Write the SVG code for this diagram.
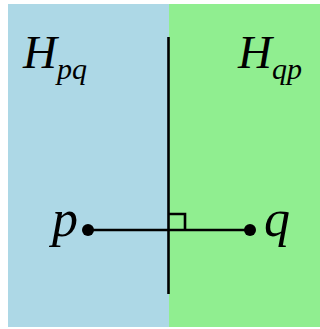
<svg xmlns="http://www.w3.org/2000/svg" width="320" height="329" viewBox="0 0 320 329">
<style>
.lbl{font-family:"Liberation Serif","Times New Roman",serif;font-style:italic;fill:#000}
.big{font-size:47px}
.sub{font-size:30px}
.pt{font-size:52px}
.ln{stroke:#000;stroke-width:2.6;fill:none}
</style>
<rect x="0" y="0" width="320" height="329" fill="#fff"/>
<g id="Hpq">
<rect x="8" y="4" width="161" height="323" fill="#ADD8E6"/>
<text class="lbl big" x="23" y="68">H<tspan class="sub" dy="11">pq</tspan></text>
</g>
<g id="Hqp">
<rect x="169" y="4" width="151" height="323" fill="#90EE90"/>
<text class="lbl big" x="238" y="68">H<tspan class="sub" dy="11">qp</tspan></text>
</g>
<g id="connectors">
<line class="ln" x1="168.5" y1="37" x2="168.5" y2="294"/>
<line class="ln" x1="88" y1="230" x2="250" y2="230"/>
<polyline class="ln" points="169,214 185,214 185,230"/>
</g>
<g id="p">
<circle cx="88" cy="230" r="6" fill="#000"/>
<text class="lbl pt" x="52" y="236">p</text>
</g>
<g id="q">
<circle cx="250" cy="230" r="6" fill="#000"/>
<text class="lbl pt" x="264" y="236">q</text>
</g>
</svg>
